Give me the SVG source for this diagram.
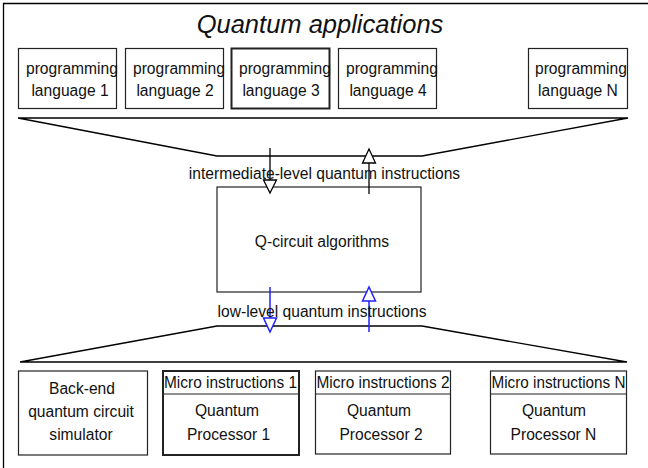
<svg xmlns="http://www.w3.org/2000/svg" width="648" height="468" viewBox="0 0 648 468">
<style>
  text { font-family: "Liberation Sans", Arial, sans-serif; font-size: 15.6px; fill: #111; }
  .title { font-size: 25.5px; font-style: italic; }
  .box { fill: #fff; stroke: #222; stroke-width: 1.2; }
  .thick { stroke-width: 2; }
  .funnel { fill: none; stroke: #000; stroke-width: 1.4; }
  .blk { stroke: #000; stroke-width: 1.3; fill: none; }
  .blkhead { stroke: #000; stroke-width: 1.3; fill: #fff; }
  .blu { stroke: #2020ff; stroke-width: 1.5; fill: none; }
  .bluhead { stroke: #2020ff; stroke-width: 1.5; fill: #fff; }
  .c { text-anchor: middle; }
</style>
<rect x="0" y="0" width="648" height="468" fill="#fff"/>
<path d="M3.5,470 V3.5 H650" fill="none" stroke="#000" stroke-width="1.3"/>
<text class="title c" x="320" y="33">Quantum applications</text>

<g id="lang1"><rect class="box" x="18.5" y="48.5" width="98" height="60"/><text x="26" y="74">programming</text><text class="c" x="70" y="96">language 1</text></g>
<g id="lang2"><rect class="box" x="125.5" y="48.5" width="98" height="60"/><text x="133" y="74">programming</text><text class="c" x="175" y="96">language 2</text></g>
<g id="lang3"><rect class="box thick" x="231.5" y="48.5" width="98" height="60"/><text x="239" y="74">programming</text><text class="c" x="281" y="96">language 3</text></g>
<g id="lang4"><rect class="box" x="338.5" y="48.5" width="98" height="60"/><text x="346" y="74">programming</text><text class="c" x="388" y="96">language 4</text></g>
<g id="langN"><rect class="box" x="528.5" y="48.5" width="99" height="60"/><text x="535" y="74">programming</text><text class="c" x="578" y="96">language N</text></g>

<g id="funnels">
  <polyline class="funnel" points="18,118 628,118 422,156 217,156 18,118"/>
  <polyline class="funnel" points="20,362 627,362 422,326 217,326 20,362"/>
</g>

<g id="qcircuit"><rect class="box" x="217" y="187" width="204" height="105"/><text class="c" x="322" y="247">Q-circuit algorithms</text></g>

<g id="backend"><rect class="box" x="18.5" y="371" width="129" height="84"/><text class="c" x="82" y="394">Back-end</text><text class="c" x="81" y="417">quantum circuit</text><text class="c" x="81" y="440">simulator</text></g>
<g id="proc1"><rect class="box thick" x="163" y="371" width="136" height="84"/><line x1="163" y1="394" x2="299" y2="394" stroke="#222" stroke-width="1.2"/><text class="c" x="230.5" y="388" textLength="133" lengthAdjust="spacingAndGlyphs">Micro instructions 1</text><text class="c" x="227" y="416">Quantum</text><text class="c" x="228.5" y="440">Processor 1</text></g>
<g id="proc2"><rect class="box" x="315.5" y="371" width="135" height="83"/><line x1="315.5" y1="394" x2="450.5" y2="394" stroke="#222" stroke-width="1.2"/><text class="c" x="383" y="388" textLength="133" lengthAdjust="spacingAndGlyphs">Micro instructions 2</text><text class="c" x="379" y="416">Quantum</text><text class="c" x="381" y="440">Processor 2</text></g>
<g id="procN"><rect class="box" x="490.5" y="371" width="136" height="83"/><line x1="490.5" y1="394" x2="626.5" y2="394" stroke="#222" stroke-width="1.2"/><text class="c" x="558.5" y="388" textLength="134" lengthAdjust="spacingAndGlyphs">Micro instructions N</text><text class="c" x="554" y="416">Quantum</text><text class="c" x="553.5" y="440">Processor N</text></g>

<g id="connectors">
  <line class="blk" x1="270" y1="148" x2="270" y2="180"/>
  <polygon class="blkhead" points="263.5,180 276.5,180 270,193"/>
  <line class="blk" x1="369" y1="194" x2="369" y2="163"/>
  <polygon class="blkhead" points="362.5,163 375.5,163 369,149"/>
  <line class="blu" x1="270" y1="287" x2="270" y2="318"/>
  <polygon class="bluhead" points="263.5,318 276.5,318 270,332"/>
  <line class="blu" x1="369" y1="332" x2="369" y2="301"/>
  <polygon class="bluhead" points="362.5,301 375.5,301 369,287"/>
  <text class="c" x="324.5" y="179">intermediate-level quantum instructions</text>
  <text class="c" x="322" y="317">low-level quantum instructions</text>
</g>
</svg>
